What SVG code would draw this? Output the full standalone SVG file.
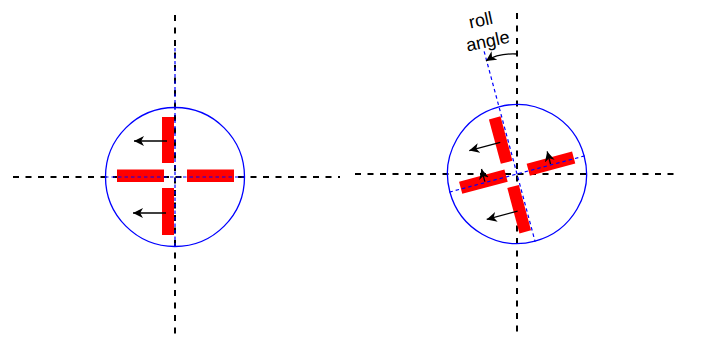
<svg xmlns="http://www.w3.org/2000/svg" width="707" height="342" viewBox="0 0 707 342">
<style>
.axis{stroke:#000;stroke-width:2;stroke-dasharray:6 6.5;fill:none}
.ring{fill:none;stroke:#0000ff;stroke-width:1.3}
.ref{stroke:#0000ff;stroke-width:1.2;stroke-dasharray:3.5 3;fill:none}
.bar{fill:#ff0000}
.arr{stroke:#000;stroke-width:1.3;fill:none;marker-end:url(#ah)}
.lbl{font-family:"Liberation Sans",Arial,sans-serif;font-size:18px;fill:#000;text-anchor:middle}
</style>
<defs>
<marker id="ah" markerUnits="userSpaceOnUse" markerWidth="12" markerHeight="12" refX="10" refY="5" orient="auto" viewBox="0 0 12 12">
<path d="M0,0 L10,5 L0,10 L2.8,5 Z" fill="#000"/>
</marker>
</defs>
<g id="axes">
<line class="axis" x1="175" y1="15" x2="175" y2="339"/>
<line class="axis" x1="13" y1="177" x2="340" y2="177"/>
<line class="axis" x1="517" y1="13" x2="517" y2="337"/>
<line class="axis" x1="355" y1="174" x2="679" y2="174"/>
</g>
<g id="rotor-left" transform="translate(175,177)">
<circle class="ring" cx="0" cy="0" r="69.5"/>
<rect class="bar" x="-13" y="-60" width="12" height="46"/>
<rect class="bar" x="-13" y="11" width="12" height="47"/>
<rect class="bar" x="-58" y="-7.5" width="47" height="12.5"/>
<rect class="bar" x="12" y="-7.5" width="47" height="12.5"/>
<line class="ref" x1="0" y1="-129" x2="0" y2="70"/>
<line class="ref" x1="-70" y1="0" x2="70" y2="0"/>
</g>
<g id="rotor-right" transform="translate(517,174) rotate(-15)">
<circle class="ring" cx="0" cy="0" r="69.5"/>
<rect class="bar" x="-13" y="-60" width="12" height="46"/>
<rect class="bar" x="-13" y="11" width="12" height="47"/>
<rect class="bar" x="-58" y="-7.5" width="47" height="12.5"/>
<rect class="bar" x="12" y="-7.5" width="47" height="12.5"/>
<line class="ref" x1="0" y1="-127" x2="0" y2="70"/>
<line class="ref" x1="-70" y1="0" x2="70" y2="0"/>
</g>
<g id="roll-label">
<text class="lbl" transform="translate(482,26) rotate(-12)">roll</text>
<text class="lbl" transform="translate(489,47) rotate(-12)">angle</text>
</g>
<g id="connectors">
<line class="arr" x1="167" y1="141" x2="134" y2="141"/>
<line class="arr" x1="166" y1="213" x2="133" y2="213"/>
<g transform="translate(517,174) rotate(-15)">
<line class="arr" x1="-8" y1="-35" x2="-40" y2="-35"/>
<line class="arr" x1="-9" y1="36" x2="-41" y2="36"/>
<line class="arr" x1="-33" y1="-1" x2="-33" y2="-14"/>
<line class="arr" x1="35" y1="-1" x2="35" y2="-14"/>
</g>
<path class="arr" d="M517,54 Q498,53 486,61"/>
</g>
</svg>
